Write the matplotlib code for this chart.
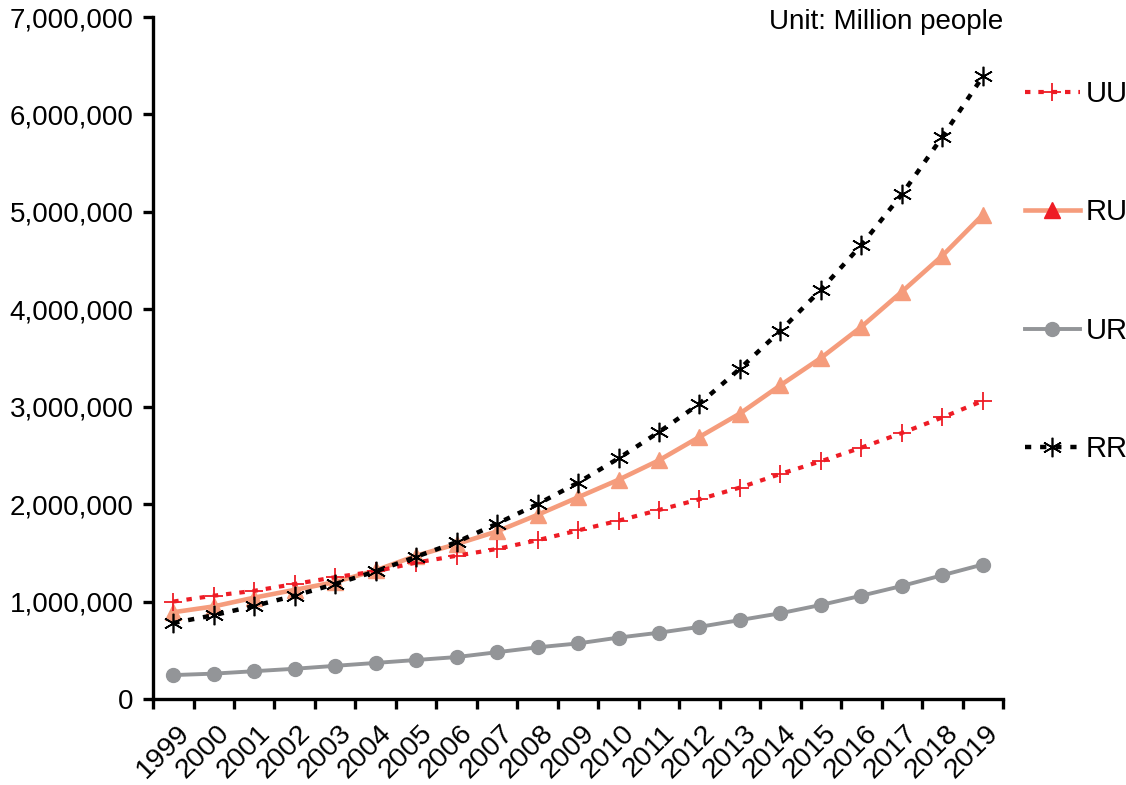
import numpy as np
import matplotlib.pyplot as plt
import matplotlib.transforms as mtransforms
from matplotlib.lines import Line2D
from matplotlib.ticker import FuncFormatter, FixedLocator

plt.rcParams['font.family'] = ['Liberation Sans', 'DejaVu Sans']

# 年次データ（単位: 人）
years = list(range(1999, 2020))
uu = [1000000, 1060000, 1110000, 1180000, 1250000, 1310000, 1400000, 1470000,
      1540000, 1630000, 1730000, 1830000, 1940000, 2050000, 2170000, 2310000,
      2440000, 2580000, 2730000, 2890000, 3060000]
ru = [890000, 950000, 1040000, 1120000, 1200000, 1320000, 1470000, 1590000,
      1720000, 1890000, 2070000, 2250000, 2450000, 2690000, 2930000, 3220000,
      3500000, 3820000, 4180000, 4550000, 4970000]
ur = [245000, 260000, 285000, 310000, 340000, 370000, 400000, 430000,
      480000, 530000, 570000, 630000, 680000, 740000, 810000, 880000,
      965000, 1060000, 1160000, 1270000, 1380000]
rr = [780000, 860000, 955000, 1060000, 1180000, 1310000, 1460000, 1610000,
      1800000, 2000000, 2220000, 2470000, 2740000, 3030000, 3390000, 3780000,
      4200000, 4660000, 5180000, 5770000, 6390000]
series_names = ['UU', 'RU', 'UR', 'RR']

C_UU = '#ee1c25'
C_RU = '#f59c7c'
C_UR = '#939598'
C_RR = '#000000'
ASTER = (6, 2, 0)

# 線・マーカーの書式（本体と凡例で共用）
st_uu = dict(color=C_UU, lw=3.0, dashes=(1.3, 1.9), marker='+', ms=13, mew=1.3)
st_ru = dict(color=C_RU, lw=3.3, marker='^', ms=12, mfc=C_RU, mec=C_RU)
st_ur = dict(color=C_UR, lw=2.8, marker='o', ms=10, mfc=C_UR, mec=C_UR)
st_rr = dict(color=C_RR, lw=3.2, dashes=(1.4, 2.0), marker=ASTER, ms=14, mew=1.2)

fig = plt.figure(figsize=(11.26, 7.85), dpi=100)
ax = fig.add_axes([0.1359, 0.1096, 0.7549, 0.8687])

x = np.arange(len(years))

ax.plot(x, ur, zorder=2, **st_ur)
ax.plot(x, ru, zorder=3, **st_ru)
ax.plot(x, uu, zorder=4, **st_uu)
ax.plot(x, rr, zorder=5, **st_rr)

# 軸
ax.set_xlim(-0.5, len(years) - 0.5)
ax.set_ylim(0, 7000000)
for side in ['top', 'right']:
    ax.spines[side].set_visible(False)
for side in ['left', 'bottom']:
    ax.spines[side].set_linewidth(2.4)

ax.yaxis.set_major_locator(FixedLocator(np.arange(0, 7000001, 1000000)))
ax.yaxis.set_major_formatter(FuncFormatter(lambda v, p: f'{v:,.0f}'))
ax.tick_params(axis='y', length=7, width=2.4, labelsize=20, pad=7)

# 区切り目盛りは境界に、年ラベルは中央に
ax.xaxis.set_major_locator(FixedLocator(np.arange(-0.5, len(years), 1.0)))
ax.xaxis.set_major_formatter(FuncFormatter(lambda v, p: ''))
ax.set_xticks(x, [str(y) for y in years], minor=True)
ax.tick_params(axis='x', which='major', length=7, width=2.4)
ax.tick_params(axis='x', which='minor', length=0, labelsize=20.5, pad=22)
offset = mtransforms.ScaledTranslation(12 / 100, 0, fig.dpi_scale_trans)
for lab in ax.get_xticklabels(minor=True):
    lab.set_rotation(45)
    lab.set_ha('right')
    lab.set_va('center')
    lab.set_rotation_mode('anchor')
    lab.set_transform(lab.get_transform() + offset)

ax.text(1.0, 0.993, 'Unit: Million people', transform=ax.transAxes,
        ha='right', va='center', fontsize=20)

# 凡例（RUのマーカーだけ赤）
handles = [
    Line2D([], [], **st_uu),
    Line2D([], [], **{**st_ru, 'mfc': C_UU, 'mec': C_UU}),
    Line2D([], [], **st_ur),
    Line2D([], [], **st_rr),
]
fig.legend(handles, series_names, loc='upper left', bbox_to_anchor=(0.910, 0.898),
           frameon=False, fontsize=21, handlelength=1.9, handletextpad=0.2,
           labelspacing=3.1, borderpad=0, borderaxespad=0)

fig.savefig('out.png', dpi=100)
